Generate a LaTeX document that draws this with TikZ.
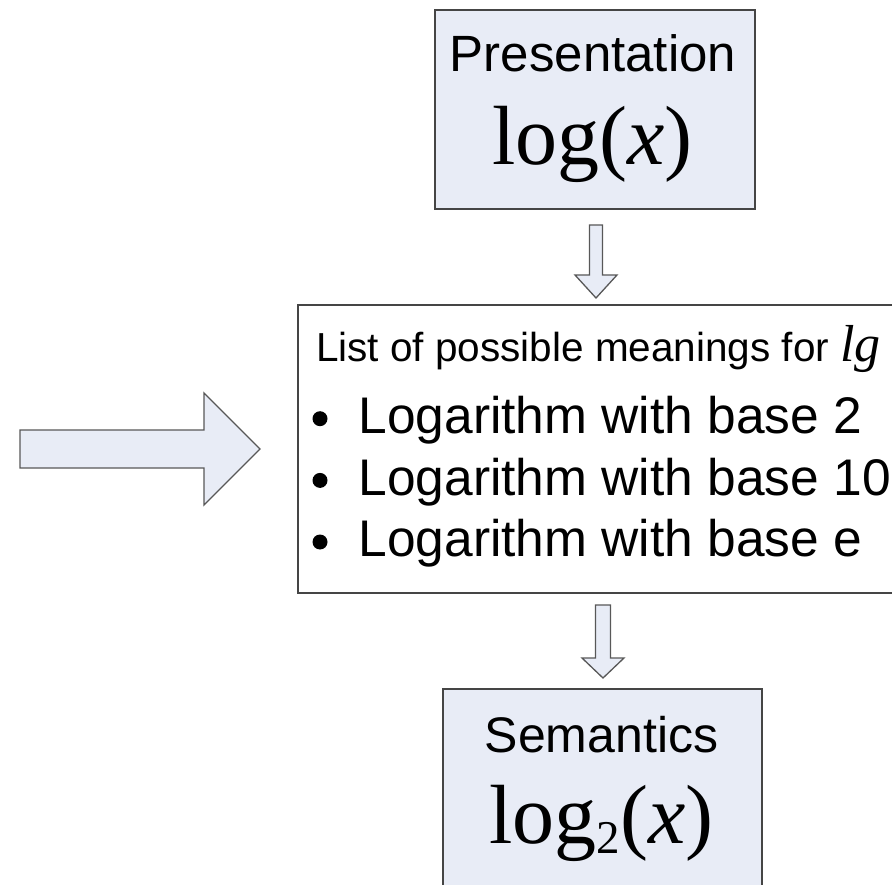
\documentclass[tikz,border=0pt]{standalone}
\usepackage{fontspec}
\setmainfont{Liberation Sans}
\newfontfamily\timesface{Liberation Serif}
\usetikzlibrary{calc}
\definecolor{boxfill}{HTML}{E8ECF6}
\definecolor{boxline}{HTML}{454545}
\definecolor{arrowline}{HTML}{585858}
\tikzset{
  panel/.style={draw=boxline, line width=2.4pt, inner sep=0pt, outer sep=0pt},
  blockarrow/.style={draw=arrowline, line width=1.3pt, fill=boxfill, line join=miter},
  txt/.style={inner sep=0pt, outer sep=0pt, anchor=base},
  itemtxt/.style={inner sep=0pt, outer sep=0pt, anchor=base west, font=\fontsize{51.5}{51.5}\selectfont},
  dot/.style={circle, fill=black, inner sep=0pt, minimum size=15pt},
}
% hollow block arrow pointing down: #1 top centre, #2 shaft half width,
% #3 head half width, #4 shaft length, #5 head length
\newcommand\hollowdown[5]{%
  \draw[blockarrow] ($(#1)+(-#2,0)$) -- ($(#1)+(#2,0)$) -- ($(#1)+(#2,#4)$)
    -- ($(#1)+(#3,#4)$) -- ($(#1)+(0,#4+#5)$) -- ($(#1)+(-#3,#4)$)
    -- ($(#1)+(-#2,#4)$) -- cycle;}
\begin{document}
\begin{tikzpicture}[x=1pt,y=-1pt]
\useasboundingbox (0,0) rectangle (892,885);
\clip (0,0) rectangle (892,885);

% boxes
\node[panel, fill=boxfill, minimum width=320pt, minimum height=199pt] (pres) at (595,109.5) {};
\node[panel, fill=white, minimum width=702pt, minimum height=288pt] (mid) at (649,449) {};
\node[panel, fill=boxfill, minimum width=319pt, minimum height=311pt] (sem) at (602.5,844.5) {};

% presentation box
\node[txt, font=\fontsize{51}{51}\selectfont] (prestitle) at (593,71.7) {Presentation};
\node[txt, font=\timesface\fontsize{84}{84}\selectfont] (presformula) at (592.5,165) {log(\textit{x})};

% list of meanings
\node[inner sep=0pt, outer sep=0pt, anchor=base west, font=\fontsize{40.5}{40.5}\selectfont] (listtitle) at (316,361.7)
  {List of possible meanings for {\timesface\itshape\fontsize{52}{52}\selectfont lg}};
\node[dot] (b1) at (320,418.7) {};
\node[dot] (b2) at (320,480.4) {};
\node[dot] (b3) at (320,542) {};
\node[itemtxt] (i1) at (358.5,433.3) {Logarithm with base 2};
\node[itemtxt] (i2) at (358.5,495) {Logarithm with base 10};
\node[itemtxt] (i3) at (358.5,556.7) {Logarithm with base e};

% semantics box
\node[txt, font=\fontsize{50}{50}\selectfont] (semtitle) at (601.5,752.5) {Semantics};
\node[txt, font=\timesface\fontsize{84}{84}\selectfont] (semformula) at (601.5,843)
  {log\raisebox{-10pt}{\fontsize{47}{47}\selectfont 2}(\textit{x})};

% arrows between the boxes
\coordinate (a1) at ($(pres.south)+(1,16)$);
\hollowdown{a1}{6.5}{21}{50}{23}
\coordinate (a2) at ($(sem.north)+(0.5,-84)$);
\hollowdown{a2}{7.5}{21}{53}{20}

% incoming arrow on the left
\coordinate (feed) at (20,449);
\draw[blockarrow] ($(feed)+(0,-19)$) -- ($(feed)+(184,-19)$) -- ($(feed)+(184,-56)$)
  -- ($(feed)+(240,0)$) -- ($(feed)+(184,56)$) -- ($(feed)+(184,19)$) -- ($(feed)+(0,19)$) -- cycle;
\end{tikzpicture}
\end{document}
